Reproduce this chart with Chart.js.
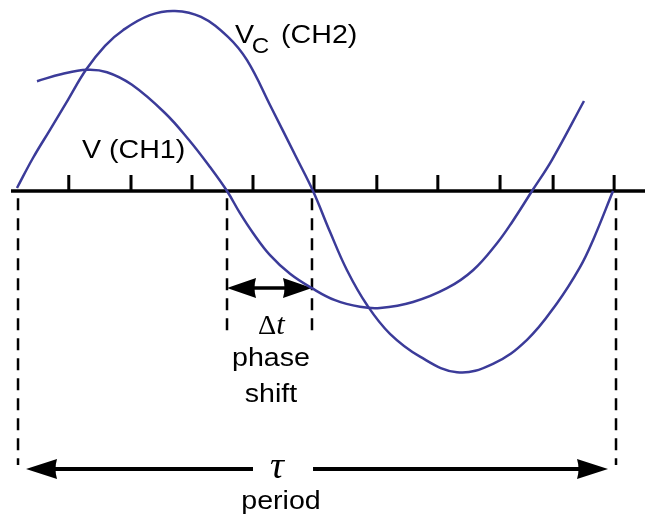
<!DOCTYPE html>
<html><head><meta charset="utf-8">
<script src="https://cdn.jsdelivr.net/npm/chart.js@4.4.1/dist/chart.umd.min.js"></script>
<style>html,body{margin:0;padding:0;background:#fff;overflow:hidden}canvas{display:block}</style>
</head><body>
<canvas id="c" width="645" height="517"></canvas>
<script>
// time in scope divisions, voltage in volts
const ch1Time  = [0.459,0.869,1.279,1.607,2.016,2.557,2.951,3.295,3.574,3.787,4.0,4.279,4.607,4.967,5.344,5.754,6.082,6.623,7.180,7.607,8.0,8.246,8.574,8.902,9.426];
const ch1Volts = [1.83,1.95,2.02,1.98,1.77,1.30,0.85,0.40,0.0,-0.37,-0.70,-1.07,-1.38,-1.62,-1.82,-1.93,-1.95,-1.85,-1.62,-1.32,-0.87,-0.52,0.0,0.52,1.50];
const ch2Time  = [0.131,0.393,0.672,0.967,1.262,1.574,1.869,2.311,2.721,3.148,3.590,3.902,4.295,4.705,4.984,5.262,5.541,5.869,6.246,6.738,7.344,7.934,8.492,8.984,9.361,9.574,9.902];
const ch2Volts = [0.05,0.55,1.02,1.52,2.02,2.42,2.68,2.93,3.0,2.9,2.57,2.18,1.40,0.57,0.0,-0.68,-1.32,-1.90,-2.38,-2.76,-3.02,-2.88,-2.48,-1.87,-1.27,-0.82,0.0];
const tickTimes = [0.98,2.0,3.0,4.0,5.0,6.03,7.03,8.05,8.92,9.92];
const markerTimes = [0.148,3.574,4.967,9.951];
const markerBottoms = [-4.567,-2.35,-2.35,-4.567];
const phaseArrow = [3.574,4.967,-1.617];      // from, to, level
const periodArrow = [0.279,9.82,-4.633];      // from, to, level
const periodGap = [4.0,4.984];
const labelTexts = ["V (CH1)","V","C","(CH2)","phase","shift","period"];

const pts = (xs,ys)=>xs.map((x,i)=>({x:x,y:ys[i]}));
const BLUE = '#3b3b99';

function txt(ctx,s,px,py,align,font,sx){
  ctx.save(); ctx.font=font; ctx.textAlign=align; ctx.textBaseline='alphabetic';
  ctx.translate(px,py); ctx.scale(sx,1); ctx.fillStyle='#000'; ctx.fillText(s,0,0); ctx.restore();
}
function head(ctx,tip,y,dir,len,half){
  ctx.beginPath(); ctx.moveTo(tip,y); ctx.lineTo(tip+dir*len,y-half);
  ctx.quadraticCurveTo(tip+dir*(len-3),y,tip+dir*len,y+half); ctx.closePath(); ctx.fill();
}

const deco = {
  id:'deco',
  beforeDatasetsDraw(chart){
    const ctx=chart.ctx, X=v=>chart.scales.x.getPixelForValue(v), Y=v=>chart.scales.y.getPixelForValue(v);
    ctx.save();
    ctx.strokeStyle='#000'; ctx.fillStyle='#000';
    ctx.lineWidth=2.5; ctx.setLineDash([12,8]);
    markerTimes.forEach((t,i)=>{ctx.beginPath();ctx.moveTo(X(t),Y(-0.12));ctx.lineTo(X(t),Y(markerBottoms[i]));ctx.stroke();});
    ctx.setLineDash([]);
    ctx.lineWidth=3.5; ctx.beginPath(); ctx.moveTo(X(0.033),Y(0)); ctx.lineTo(X(chart.scales.x.max),Y(0)); ctx.stroke();
    ctx.lineWidth=3;
    tickTimes.forEach(t=>{ctx.beginPath();ctx.moveTo(X(t),Y(0));ctx.lineTo(X(t),Y(0.267));ctx.stroke();});
    let a=X(phaseArrow[0]), b=X(phaseArrow[1]), yy=Y(phaseArrow[2]);
    ctx.lineWidth=3.5; ctx.beginPath(); ctx.moveTo(a+20,yy); ctx.lineTo(b-20,yy); ctx.stroke();
    head(ctx,a,yy,1,29,10); head(ctx,b,yy,-1,29,10);
    a=X(periodArrow[0]); b=X(periodArrow[1]); yy=Y(periodArrow[2]);
    ctx.lineWidth=4;
    ctx.beginPath(); ctx.moveTo(a+20,yy); ctx.lineTo(X(periodGap[0]),yy); ctx.stroke();
    ctx.beginPath(); ctx.moveTo(X(periodGap[1]),yy); ctx.lineTo(b-20,yy); ctx.stroke();
    head(ctx,a,yy,1,31,10); head(ctx,b,yy,-1,31,10);
    ctx.restore();
  },
  afterDatasetsDraw(chart){
    const ctx=chart.ctx, X=v=>chart.scales.x.getPixelForValue(v), Y=v=>chart.scales.y.getPixelForValue(v);
    const F='26px "Liberation Sans", Arial, sans-serif', SX=1.1;
    txt(ctx,labelTexts[0],X(1.197),Y(0.55),'left',F,SX);
    txt(ctx,labelTexts[1],X(3.705),Y(2.467),'left',F,SX);
    txt(ctx,labelTexts[2],X(3.98),Y(2.30),'left','22px "Liberation Sans", Arial, sans-serif',SX);
    txt(ctx,labelTexts[3],X(4.46),Y(2.467),'left',F,SX);
    txt(ctx,'\u0394',X(4.082),Y(-2.383),'left','27px "Liberation Serif", "Times New Roman", serif',1.05);
    txt(ctx,'t',X(4.38),Y(-2.383),'left','italic 29px "Liberation Serif", "Times New Roman", serif',1.05);
    txt(ctx,labelTexts[4],X(4.295),Y(-2.917),'center',F,SX);
    txt(ctx,labelTexts[5],X(4.295),Y(-3.517),'center',F,SX);
    txt(ctx,'\u03C4',X(4.393),Y(-4.783),'center','italic 37px "Liberation Serif", "Times New Roman", serif',1.05);
    txt(ctx,labelTexts[6],X(4.459),Y(-5.30),'center',F,SX);
  }
};

new Chart(document.getElementById('c'),{
  type:'line',
  data:{datasets:[
    {label:'V (CH1)',data:pts(ch1Time,ch1Volts),borderColor:BLUE,borderWidth:2.5,pointRadius:0,fill:false,tension:0.4},
    {label:'Vc (CH2)',data:pts(ch2Time,ch2Volts),borderColor:BLUE,borderWidth:2.5,pointRadius:0,fill:false,tension:0.4}
  ]},
  options:{
    responsive:false, devicePixelRatio:1, animation:false, events:[],
    layout:{padding:0},
    plugins:{legend:{display:false},tooltip:{enabled:false}},
    scales:{
      x:{type:'linear',display:false,min:-0.1475,max:10.4262},
      y:{type:'linear',display:false,min:-5.4333,max:3.1833}
    }
  },
  plugins:[deco]
});
</script>
</body></html>
